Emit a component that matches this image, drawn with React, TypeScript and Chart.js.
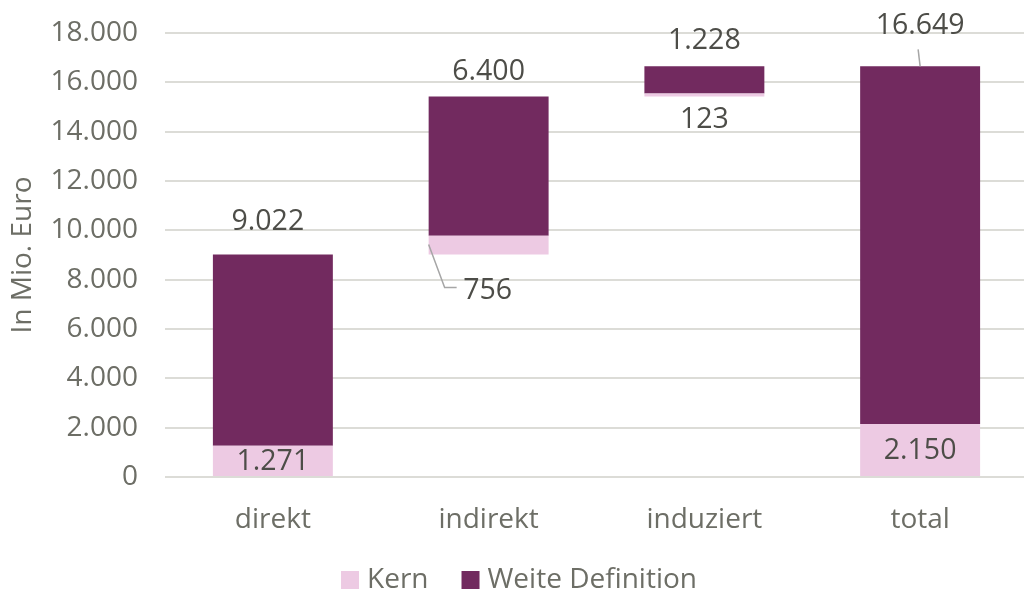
import React, { useEffect, useRef } from "react";
import { Chart, registerables } from "chart.js";

Chart.register(...registerables);

const categories = ["direkt", "indirekt", "induziert", "total"];
const kernValues = [1271, 756, 123, 2150];
const weiteValues = [9022, 6400, 1228, 16649];
const isTotal = [false, false, false, true];
const yTicks = [0, 2000, 4000, 6000, 8000, 10000, 12000, 14000, 16000, 18000];

const KERN_COLOR = "#edcae3";
const WEITE_COLOR = "#722a5f";
const AXIS_TEXT = "#6d6e66";
const LABEL_TEXT = "#4d4d48";
const FONT = "'Open Sans', 'Noto Sans', sans-serif";

const fmt = (v: number) => v.toLocaleString("de-DE");

// waterfall starts built from the data
const starts: number[] = [];
{
  let run = 0;
  for (let i = 0; i < categories.length; i++) {
    if (isTotal[i]) {
      starts.push(0);
    } else {
      starts.push(run);
      run += weiteValues[i];
    }
  }
}
const kernData = categories.map((_, i) => [starts[i], starts[i] + kernValues[i]]);
const weiteData = categories.map((_, i) => [starts[i] + kernValues[i], starts[i] + weiteValues[i]]);

const labelPlugin = {
  id: "wfLabels",
  afterDatasetsDraw(chart: any) {
    const ctx = chart.ctx as CanvasRenderingContext2D;
    const kMeta = chart.getDatasetMeta(0);
    const wMeta = chart.getDatasetMeta(1);
    ctx.save();
    ctx.font = `28.5px ${FONT}`;
    ctx.fillStyle = LABEL_TEXT;
    ctx.textAlign = "center";
    ctx.textBaseline = "middle";
    ctx.strokeStyle = "#a6a6a6";
    ctx.lineWidth = 1.5;
    for (let i = 0; i < categories.length; i++) {
      const w = wMeta.data[i];
      const k = kMeta.data[i];
      const cx = w.x;
      const top = Math.min(w.y, w.base);
      let wOff = 25;
      let wDx = 0;
      if (i === 0) { wOff = 33; wDx = -5; }
      if (isTotal[i]) {
        wOff = 40;
        ctx.beginPath();
        ctx.moveTo(cx - 2, top - 17);
        ctx.lineTo(cx, top);
        ctx.stroke();
      }
      ctx.fillText(fmt(weiteValues[i]), cx + wDx, top - wOff);
      const kTop = Math.min(k.y, k.base);
      const kBot = Math.max(k.y, k.base);
      if (i === 0 || isTotal[i]) {
        ctx.fillText(fmt(kernValues[i]), cx, (kTop + kBot) / 2 + 1);
      } else if (i === 1) {
        const left = cx - k.width / 2;
        ctx.beginPath();
        ctx.moveTo(left, kBot - 10);
        ctx.lineTo(left + 16, kBot + 33);
        ctx.lineTo(left + 28, kBot + 33);
        ctx.stroke();
        ctx.fillText(fmt(kernValues[i]), cx - 1, kBot + 36);
      } else {
        ctx.fillText(fmt(kernValues[i]), cx, kBot + 23);
      }
    }
    ctx.restore();
  },
};

const legendPlugin = {
  id: "customLegend",
  afterDraw(chart: any) {
    const ctx = chart.ctx as CanvasRenderingContext2D;
    const items = chart.data.datasets.map((d: any) => ({ text: d.label, color: d.backgroundColor }));
    ctx.save();
    ctx.font = `28px ${FONT}`;
    ctx.textBaseline = "middle";
    ctx.textAlign = "left";
    const box = 18, gap = 8, itemGap = 33;
    const widths = items.map((it: any) => box + gap + ctx.measureText(it.text).width);
    const total = widths.reduce((a: number, b: number) => a + b, 0) + itemGap * (items.length - 1);
    const cy = 580;
    let x = 519 - total / 2;
    items.forEach((it: any, i: number) => {
      ctx.fillStyle = it.color;
      ctx.fillRect(x, cy - box / 2, box, box);
      ctx.fillStyle = AXIS_TEXT;
      ctx.fillText(it.text, x + box + gap, cy);
      x += widths[i] + itemGap;
    });
    ctx.restore();
  },
};

export default function App() {
  const ref = useRef<HTMLCanvasElement>(null);
  useEffect(() => {
    document.body.style.margin = "0";
    document.body.style.overflow = "hidden";
    const chart = new Chart(ref.current!, {
      type: "bar",
      data: {
        labels: categories,
        datasets: [
          {
            label: "Kern",
            data: kernData as any,
            backgroundColor: KERN_COLOR,
            grouped: false,
            barPercentage: 0.556,
            categoryPercentage: 1,
          },
          {
            label: "Weite Definition",
            data: weiteData as any,
            backgroundColor: WEITE_COLOR,
            grouped: false,
            barPercentage: 0.556,
            categoryPercentage: 1,
          },
        ],
      },
      options: {
        animation: false,
        responsive: false,
        layout: { padding: { top: 33, left: 0, right: 0, bottom: 49 } },
        plugins: {
          tooltip: { enabled: false },
          legend: { display: false },
        },
        scales: {
          x: {
            grid: { display: false },
            border: { display: false },
            ticks: { font: { family: FONT, size: 28 }, color: AXIS_TEXT, padding: 18 },
            afterFit(scale: any) {
              scale.height = 64;
              scale.paddingLeft = 0;
              scale.paddingRight = 0;
            },
          },
          y: {
            min: 0,
            max: 18000,
            afterBuildTicks(scale: any) {
              scale.ticks = yTicks.map((v) => ({ value: v }));
            },
            ticks: {
              font: { family: FONT, size: 28 },
              color: AXIS_TEXT,
              padding: 27,
              callback: (v: any) => fmt(Number(v)),
            },
            grid: { color: "#dcdcd7", lineWidth: 2, drawTicks: false },
            border: { display: false },
            title: {
              display: true,
              text: "In Mio. Euro",
              font: { family: FONT, size: 28 },
              color: AXIS_TEXT,
              padding: { top: 6, bottom: 0 },
            },
            afterFit(scale: any) {
              scale.width = 165;
              scale.paddingTop = 0;
              scale.paddingBottom = 0;
            },
          },
        },
      },
      plugins: [labelPlugin, legendPlugin],
    });
    return () => chart.destroy();
  }, []);
  return (
    <div style={{ width: 1028, height: 590 }}>
      <canvas ref={ref} width={1028} height={590} style={{ display: "block" }} />
    </div>
  );
}
